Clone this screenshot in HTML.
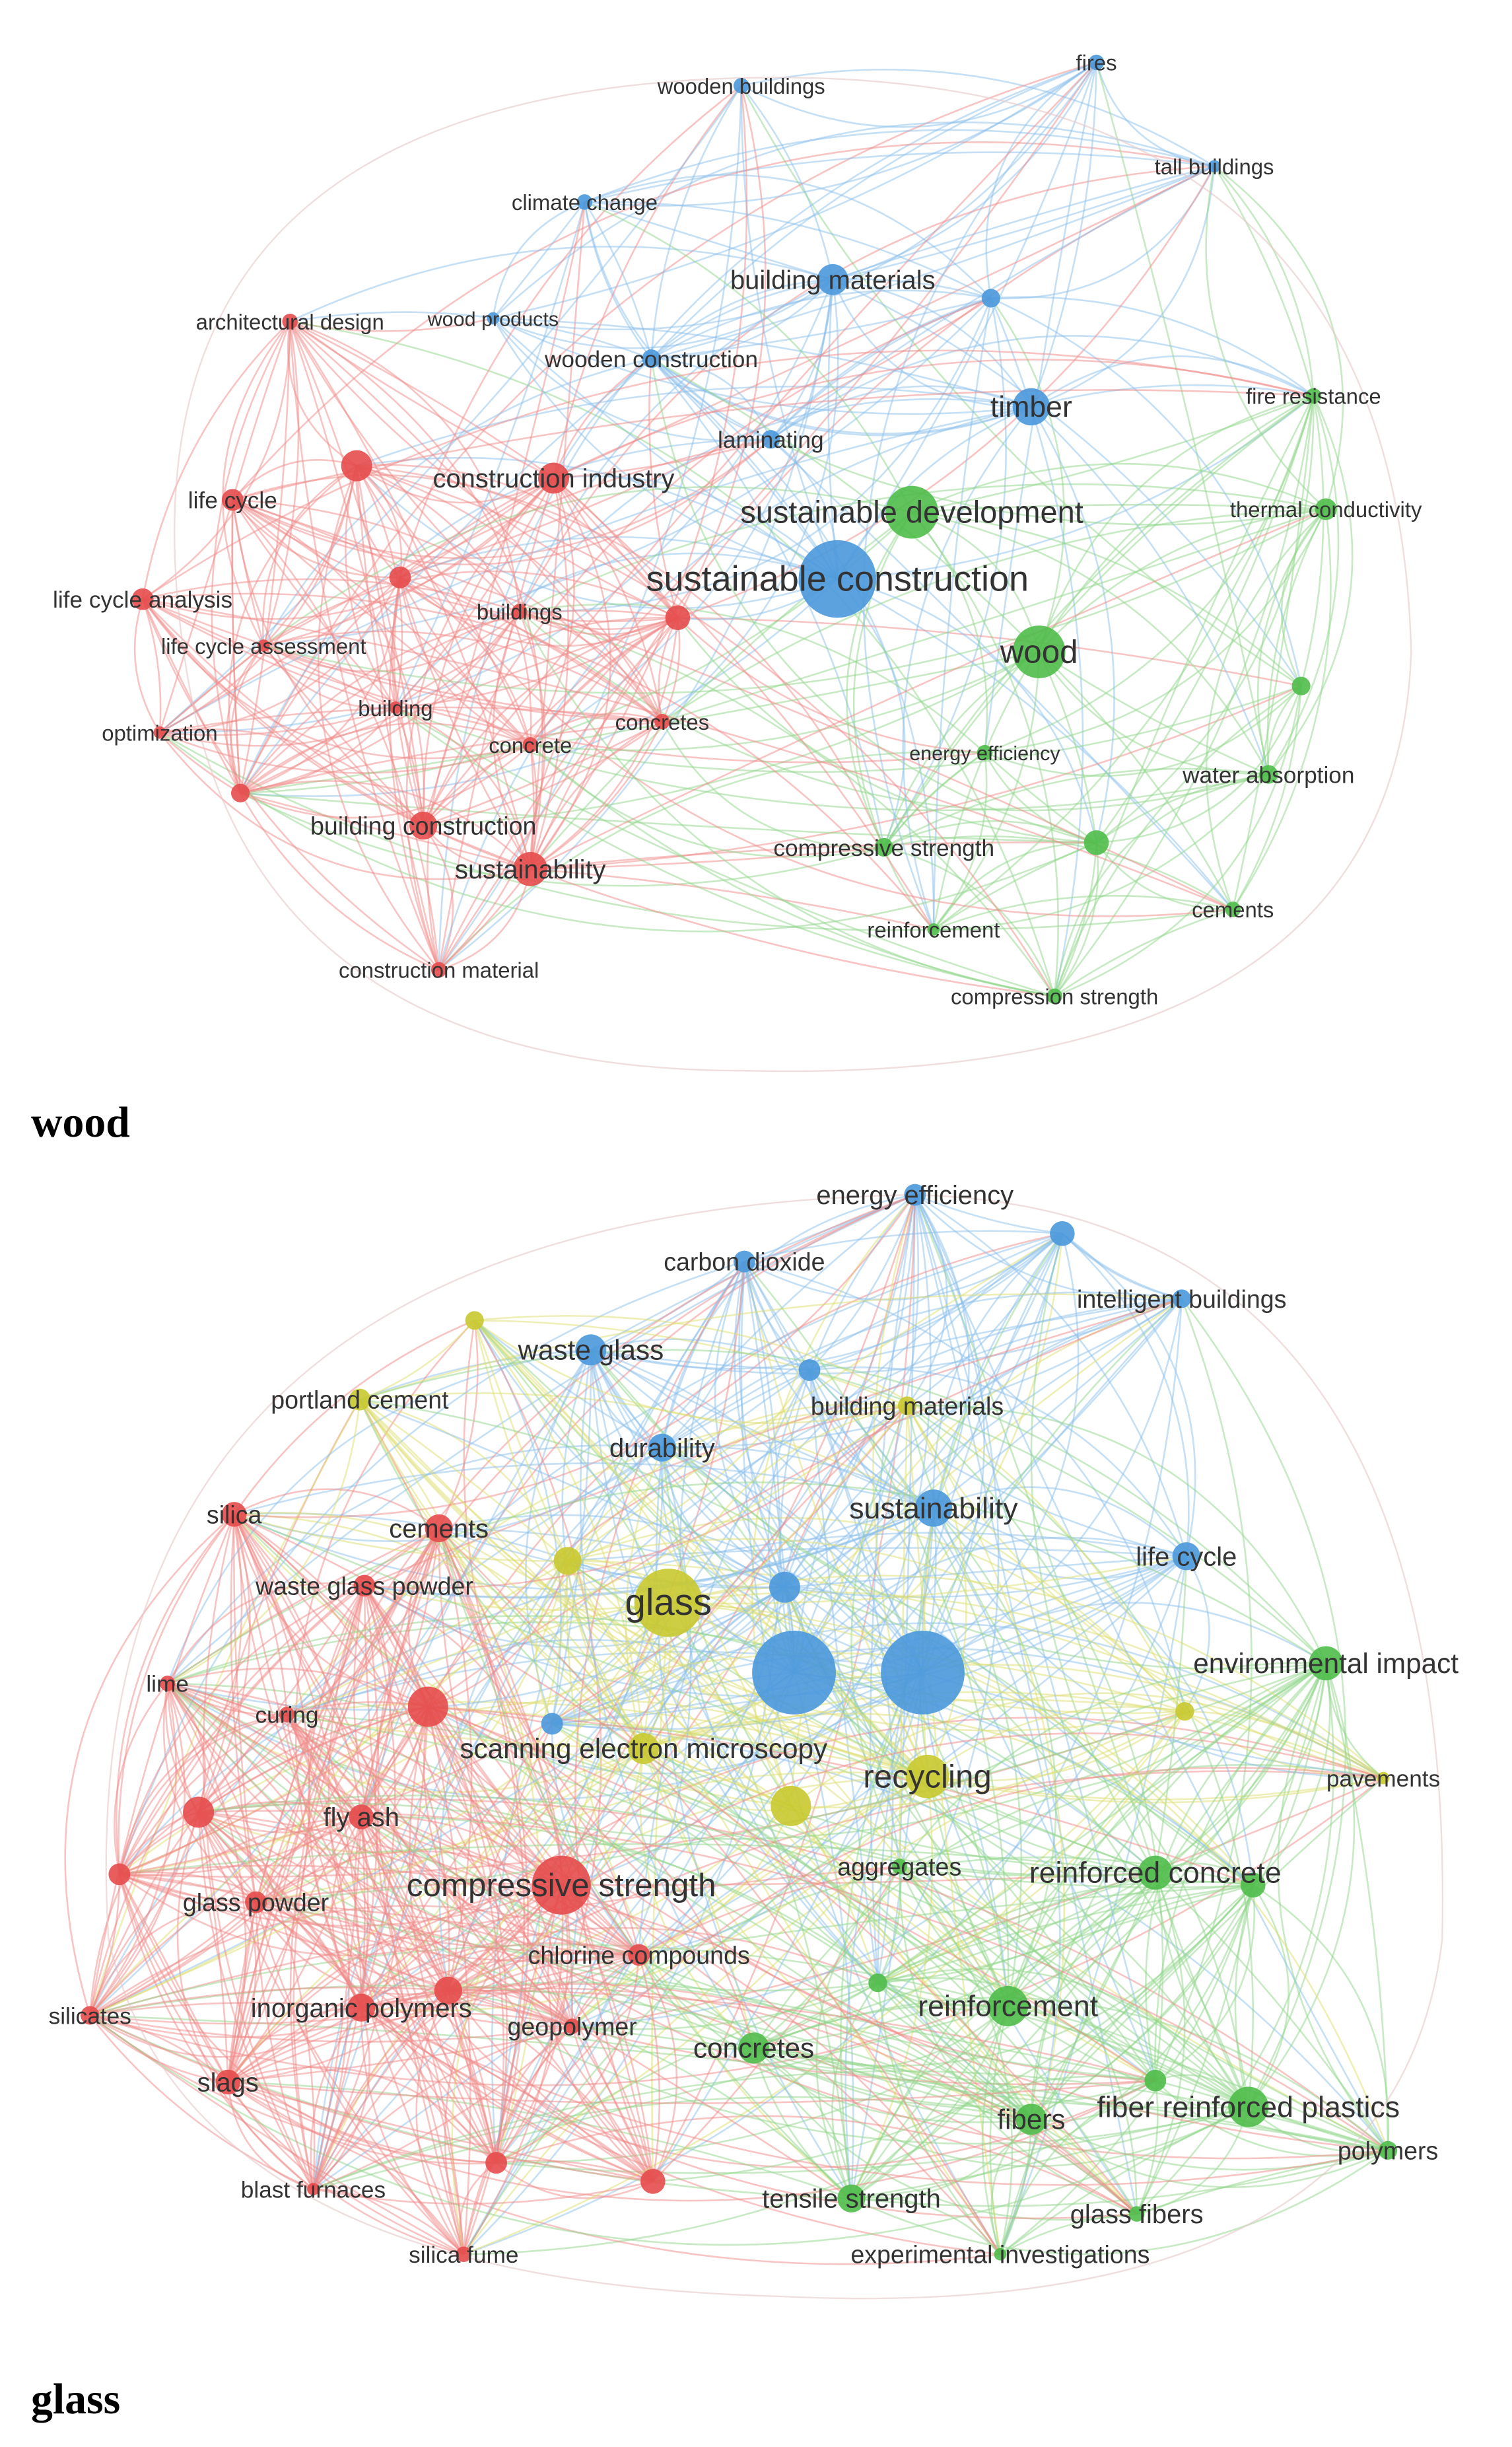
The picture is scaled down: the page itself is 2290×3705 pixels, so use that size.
<!DOCTYPE html>
<html><head><meta charset="utf-8"><style>
html,body{margin:0;padding:0;background:#fff;}
svg{display:block;}
text{font-family:"Liberation Sans",sans-serif;fill:#333;text-anchor:middle;dominant-baseline:middle;}
.t{font-family:"Liberation Serif",serif;font-weight:bold;fill:#000;text-anchor:start;font-size:28px;}
</style></head><body>
<svg id="s" width="2290" height="3705" viewBox="0 0 975 1577" xmlns="http://www.w3.org/2000/svg">
<g id="edges"></g><g id="nodes"></g><g id="labels"></g>
<text class="t" x="20" y="726">wood</text>
<text class="t" x="20" y="1549">glass</text>
</svg>
<script>
var C={r:"#e64b4b",g:"#4fbd4a",b:"#4a98dc",y:"#c9c930"};
var L={r:"#f08a88",g:"#8fd68a",b:"#8cbfec",y:"#dede70"};
var W=[
[478,55,5,"b","wooden buildings",14],[707,40,5,"b","fires",14],[783,107,4,"b","tall buildings",14],
[377,130,5,"b","climate change",14],[537,180,10,"b","building materials",17],[639,192,6,"b","",0],
[318,205,4,"b","wood products",13],[420,231,6,"b","wooden construction",15],[665,262,12,"b","timber",19],
[497,283,6,"b","laminating",15],[540,373,25,"b","sustainable construction",23],
[588,330,17,"g","sustainable development",20],[670,420,17,"g","wood",21],[847,255,5,"g","fire resistance",14],
[855,328,7,"g","thermal conductivity",14],[839,442,6,"g","",0],[635,485,5,"g","energy efficiency",13],
[818,499,6,"g","water absorption",15],[707,543,8,"g","",0],[570,546,6,"g","compressive strength",15],
[795,586,5,"g","cements",14],[602,599,4,"g","reinforcement",14],[680,642,5,"g","compression strength",14],
[187,207,5,"r","architectural design",14],[230,300,10,"r","",0],[357,308,10,"r","construction industry",17],
[150,322,7,"r","life cycle",15],[258,372,7,"r","",0],[92,386,7,"r","life cycle analysis",15],
[335,394,5,"r","buildings",14],[437,398,8,"r","",0],[170,416,4,"r","life cycle assessment",14],
[255,456,4,"r","building",14],[342,480,5,"r","concrete",14],[427,465,5,"r","concretes",14],
[103,472,4,"r","optimization",14],[155,511,6,"r","",0],[273,532,9,"r","building construction",16],
[342,560,11,"r","sustainability",17],[283,625,5,"r","construction material",14]];
var G=[
[590,770,7,"b","energy efficiency",17],[685,795,8,"b","",0],[480,813,7,"b","carbon dioxide",16],
[762,837,6,"b","intelligent buildings",16],[381,870,10,"b","waste glass",18],[522,883,7,"b","",0],
[427,933,9,"b","durability",17],[602,972,12,"b","sustainability",19],[765,1003,9,"b","life cycle",17],
[506,1023,10,"b","",0],[512,1078,27,"b","",0],[595,1078,27,"b","",0],[356,1111,7,"b","",0],
[306,851,6,"y","",0],[232,902,7,"y","portland cement",16],[585,906,6,"y","building materials",16],
[366,1006,9,"y","",0],[431,1033,22,"y","glass",24],[764,1103,6,"y","",0],
[415,1127,10,"y","scanning electron microscopy",18],[598,1145,14,"y","recycling",21],[510,1164,13,"y","",0],
[892,1146,4,"y","pavements",15],
[855,1072,11,"g","environmental impact",18],[580,1203,5,"g","aggregates",16],[745,1207,11,"g","reinforced concrete",19],
[808,1215,8,"g","",0],[566,1278,6,"g","",0],[650,1293,13,"g","reinforcement",19],[486,1320,10,"g","concretes",18],
[745,1341,7,"g","",0],[665,1366,10,"g","fibers",18],[805,1358,13,"g","fiber reinforced plastics",19],
[895,1386,6,"g","polymers",16],[549,1417,9,"g","tensile strength",17],[733,1427,5,"g","glass fibers",17],
[645,1453,4,"g","experimental investigations",16],
[151,976,8,"r","silica",16],[283,985,9,"r","cements",17],[235,1022,7,"r","waste glass powder",16],
[108,1085,5,"r","lime",15],[185,1105,5,"r","curing",15],[276,1100,13,"r","",0],[233,1171,8,"r","fly ash",17],
[128,1168,10,"r","",0],[165,1226,7,"r","glass powder",16],[77,1208,7,"r","",0],
[362,1215,19,"r","compressive strength",21],[412,1260,7,"r","chlorine compounds",16],[58,1299,6,"r","silicates",15],
[233,1294,9,"r","inorganic polymers",17],[289,1283,9,"r","",0],[369,1306,5,"r","geopolymer",16],
[147,1342,8,"r","slags",17],[202,1411,4,"r","blast furnaces",15],[320,1394,7,"r","",0],[421,1406,8,"r","",0],
[299,1453,5,"r","silica fume",15]];
var seed=7;function rnd(){seed=(seed*16807)%2147483647;return seed/2147483647;}
var NS="http://www.w3.org/2000/svg";
function el(t,a,p){var e=document.createElementNS(NS,t);for(var k in a)e.setAttribute(k,a[k]);document.getElementById(p).appendChild(e);return e;}
function draw(N){
 for(var r=0;r<2;r++)
 for(var i=0;i<N.length;i++)for(var j=i+1;j<N.length;j++){
  var a=N[i],b=N[j];var p=(a[3]==b[3]?0.6:0.14)*Math.min(1,(a[2]+b[2])/13);
  if(rnd()<p){var dx=b[0]-a[0],dy=b[1]-a[1];var k=(rnd()-0.5)*0.7;
   var cx=(a[0]+b[0])/2-dy*k,cy=(a[1]+b[1])/2+dx*k;
   var col=a[2]>=b[2]?L[a[3]]:L[b[3]];
   el("path",{d:"M"+a[0]+","+a[1]+" Q"+cx+","+cy+" "+b[0]+","+b[1],fill:"none",stroke:col,"stroke-width":1.1,"stroke-opacity":0.5},"edges");}
 }
 N.forEach(function(n){el("circle",{cx:n[0],cy:n[1],r:n[2],fill:C[n[3]],"fill-opacity":0.9},"nodes");
  if(n[4]){var t=el("text",{x:n[0],y:n[1]+1.5,"font-size":n[5]},"labels");t.textContent=n[4];}});
}
draw(W);draw(G);
el("path",{d:"M120,430 Q60,60 480,50 Q900,40 910,420 Q900,700 480,690 Q160,690 120,430",fill:"none",stroke:"#e6c6c6","stroke-width":1,"stroke-opacity":0.6},"edges");
el("path",{d:"M70,1250 Q40,780 590,770 Q940,780 930,1250 Q900,1500 500,1480 Q120,1470 70,1250",fill:"none",stroke:"#e6c6c6","stroke-width":1,"stroke-opacity":0.6},"edges");
</script>
</body></html>
